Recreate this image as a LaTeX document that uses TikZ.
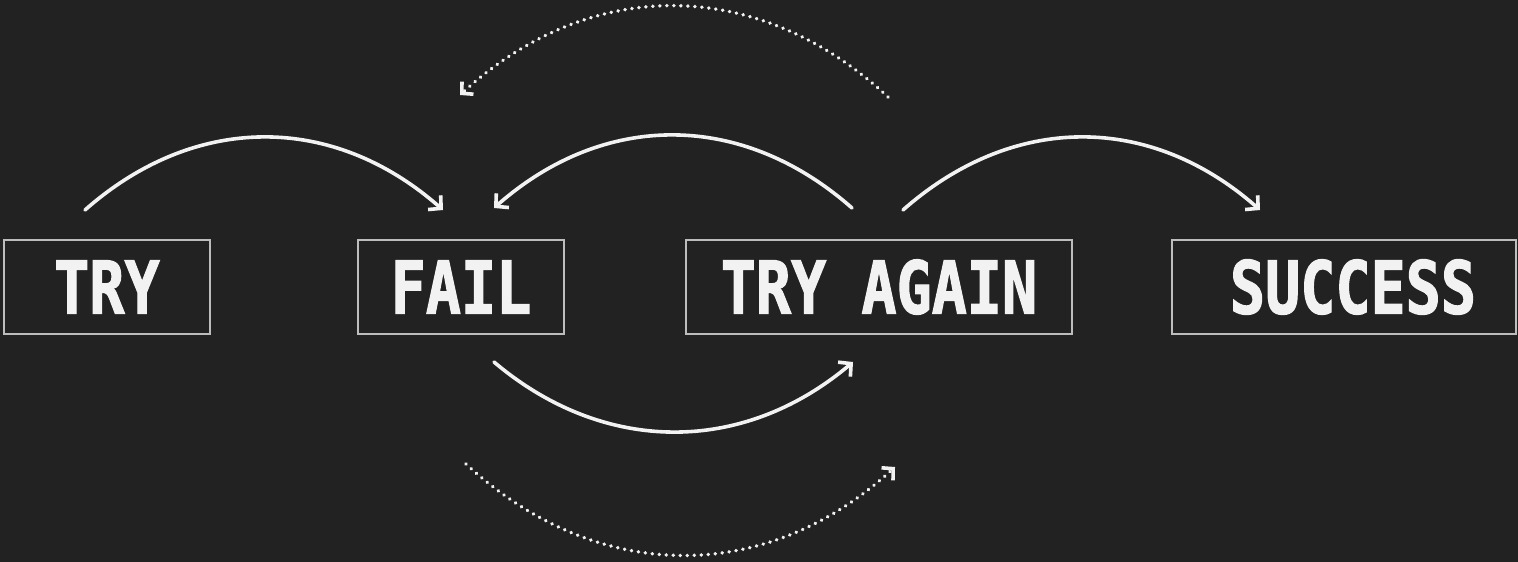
\documentclass[tikz,border=0pt]{standalone}
\usepackage{fontspec}
\usetikzlibrary{arrows.meta}
\newfontfamily\boxfont[FakeStretch=0.8,BoldFeatures={FakeBold=1.6}]{DejaVu Sans Mono}
\definecolor{bgc}{HTML}{222222}
\definecolor{fgc}{HTML}{F2F2F2}
\definecolor{edgec}{HTML}{BDBDBD}
\tikzset{
  stepbox/.style={draw=edgec, line width=1.6pt, text=fgc, inner sep=0pt,
    minimum height=94pt, font=\boxfont\bfseries\fontsize{73}{80}\selectfont},
  flow/.style={draw=fgc, line width=3.6pt, line cap=round,
    -{Straight Barb[length=9pt,width=19pt,line width=3.6pt]}},
  dotflow/.style={draw=fgc, line width=3.8pt, line cap=round,
    dash pattern=on 0.01pt off 7pt,
    -{Straight Barb[length=8pt,width=17pt,line width=3.6pt]}}
}
\begin{document}
\begin{tikzpicture}[x=1pt,y=-1pt]
\fill[bgc] (0,0) rectangle (1518,562);
\useasboundingbox (0,0) rectangle (1518,562);

\node[stepbox, minimum width=206pt] (try) at (107,287) {TRY};
\node[stepbox, minimum width=206pt] (fail) at (461,287) {FAIL};
\node[stepbox, minimum width=386pt] (again) at (879,287) {TRY AGAIN};
\node[stepbox, minimum width=344pt] (success) at (1344,287) {\hspace*{18pt}SUCCESS};

% connector end points
\coordinate (a1s) at (85,210);   \coordinate (a1e) at (443,210);
\coordinate (a2s) at (852,208);  \coordinate (a2e) at (494,208);
\coordinate (a3s) at (903,210);  \coordinate (a3e) at (1260,210);
\coordinate (a4s) at (494,362);  \coordinate (a4e) at (853,362);
\coordinate (d1s) at (888,97);   \coordinate (d1e) at (460,95);
\coordinate (d2s) at (466,464);  \coordinate (d2e) at (895,467);

\draw[flow] (a1s) .. controls (195,113) and (333,113) .. (a1e);
\draw[flow] (a2s) .. controls (742,111) and (604,111) .. (a2e);
\draw[flow] (a3s) .. controls (1013,113) and (1150,113) .. (a3e);
\draw[flow] (a4s) .. controls (604,455) and (743,455) .. (a4e);
\draw[dotflow] (d1s) .. controls (758,-24) and (590,-24) .. (d1e);
\draw[dotflow] (d2s) .. controls (596,584) and (765,586) .. (d2e);
\end{tikzpicture}
\end{document}
